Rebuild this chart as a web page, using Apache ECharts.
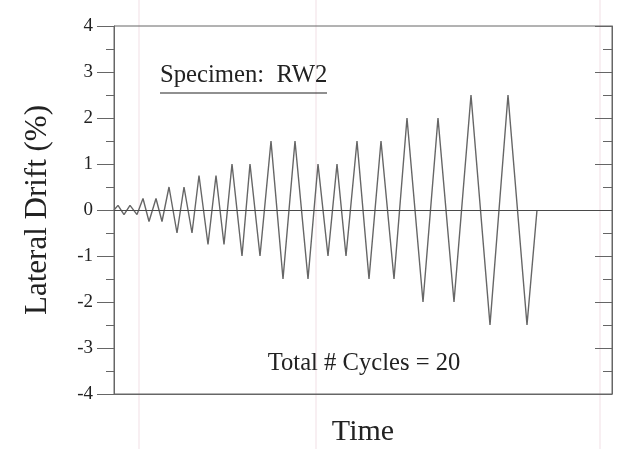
<!DOCTYPE html>
<html>
<head>
<meta charset="utf-8">
<script src="https://cdn.jsdelivr.net/npm/echarts@6/dist/echarts.min.js"></script>
<style>
  html, body { margin: 0; padding: 0; background: #fff; }
  #chart { width: 623px; height: 449px; }
</style>
</head>
<body>
<div id="chart"></div>
<script>
// loading history: time (arbitrary units) and lateral drift (%)
const timePts = [0, 4, 10, 16, 23, 29, 35, 42, 48, 55, 63, 70, 78, 85, 94, 102, 110,
  118, 128, 136, 146, 157, 169, 181, 194, 204, 214, 223, 232, 243, 255, 267, 280,
  293, 309, 324, 340, 357, 376, 394, 413, 423];
const driftPts = [0, 0.1, -0.1, 0.1, -0.1, 0.25, -0.25, 0.25, -0.25, 0.5, -0.5, 0.5, -0.5,
  0.75, -0.75, 0.75, -0.75, 1.0, -1.0, 1.0, -1.0, 1.5, -1.5, 1.5, -1.5, 1.0, -1.0, 1.0, -1.0,
  1.5, -1.5, 1.5, -1.5, 2.0, -2.0, 2.0, -2.0, 2.5, -2.5, 2.5, -2.5, 0];
const yTicks = [-4, -3, -2, -1, 0, 1, 2, 3, 4];

const serif = "'Liberation Serif', 'DejaVu Serif', serif";
const txt = "#222";
const axisCol = "#666";

const chart = echarts.init(document.getElementById("chart"));

const data = timePts.map((t, i) => [t, driftPts[i]]);

chart.setOption({
  backgroundColor: "#fff",
  animation: false,
  grid: {
    left: 114, right: 11, top: 26, bottom: 55,
    outerBoundsMode: "none",
    show: true, borderColor: axisCol, borderWidth: 1
  },
  xAxis: {
    type: "value",
    min: 0,
    max: 498,
    name: "Time",
    nameLocation: "middle",
    nameGap: 23,
    nameTextStyle: { fontFamily: serif, fontSize: 30, color: txt },
    axisLine: { onZero: false, lineStyle: { color: axisCol } },
    axisTick: { show: false },
    axisLabel: { show: false },
    splitLine: { show: false }
  },
  yAxis: [
    {
      type: "value",
      min: yTicks[0],
      max: yTicks[yTicks.length - 1],
      interval: 1,
      name: "Lateral Drift (%)",
      nameLocation: "middle",
      nameGap: 61,
      nameTextStyle: { fontFamily: serif, fontSize: 31, color: txt },
      axisLine: { show: true, onZero: false, lineStyle: { color: axisCol } },
      axisTick: { show: true, length: 17, lineStyle: { color: axisCol } },
      minorTick: { show: true, splitNumber: 2, length: 8, lineStyle: { color: axisCol } },
      axisLabel: { margin: 21, fontFamily: serif, fontSize: 19, color: txt },
      splitLine: { show: false }
    },
    {
      type: "value",
      position: "right",
      min: yTicks[0],
      max: yTicks[yTicks.length - 1],
      interval: 1,
      axisLine: { show: true, onZero: false, lineStyle: { color: axisCol } },
      axisTick: { show: true, inside: true, length: 17, lineStyle: { color: axisCol } },
      minorTick: { show: true, splitNumber: 2, length: 9, lineStyle: { color: axisCol } },
      axisLabel: { show: false },
      splitLine: { show: false }
    }
  ],
  series: [
    {
      type: "line",
      data,
      symbol: "none",
      lineStyle: { color: "#666", width: 1.4 },
      z: 3,
      markLine: {
        silent: true,
        symbol: "none",
        label: { show: false },
        lineStyle: { color: "#4a4a4a", width: 1.2, type: "solid" },
        data: [{ yAxis: 0 }]
      }
    }
  ],
  graphic: [
    // faint scanner streaks in the original image
    { type: "line", shape: { x1: 139, y1: 0, x2: 139, y2: 449 }, style: { stroke: "rgba(225,185,195,0.45)", lineWidth: 1 }, z: -1 },
    { type: "line", shape: { x1: 316, y1: 0, x2: 316, y2: 449 }, style: { stroke: "rgba(225,185,195,0.45)", lineWidth: 1 }, z: -1 },
    { type: "line", shape: { x1: 600, y1: 0, x2: 600, y2: 449 }, style: { stroke: "rgba(225,185,195,0.45)", lineWidth: 1 }, z: -1 },
    {
      type: "text", left: 160, top: 63,
      style: { text: "Specimen:  RW2", font: "24.7px " + serif, fill: txt }
    },
    {
      type: "line", shape: { x1: 160, y1: 93, x2: 327, y2: 93 },
      style: { stroke: txt, lineWidth: 1.2 }
    },
    {
      type: "text", x: 364, y: 364,
      style: { text: "Total # Cycles = 20", font: "24.6px " + serif, fill: txt, align: "center", verticalAlign: "middle" }
    }
  ]
});
</script>
</body>
</html>
